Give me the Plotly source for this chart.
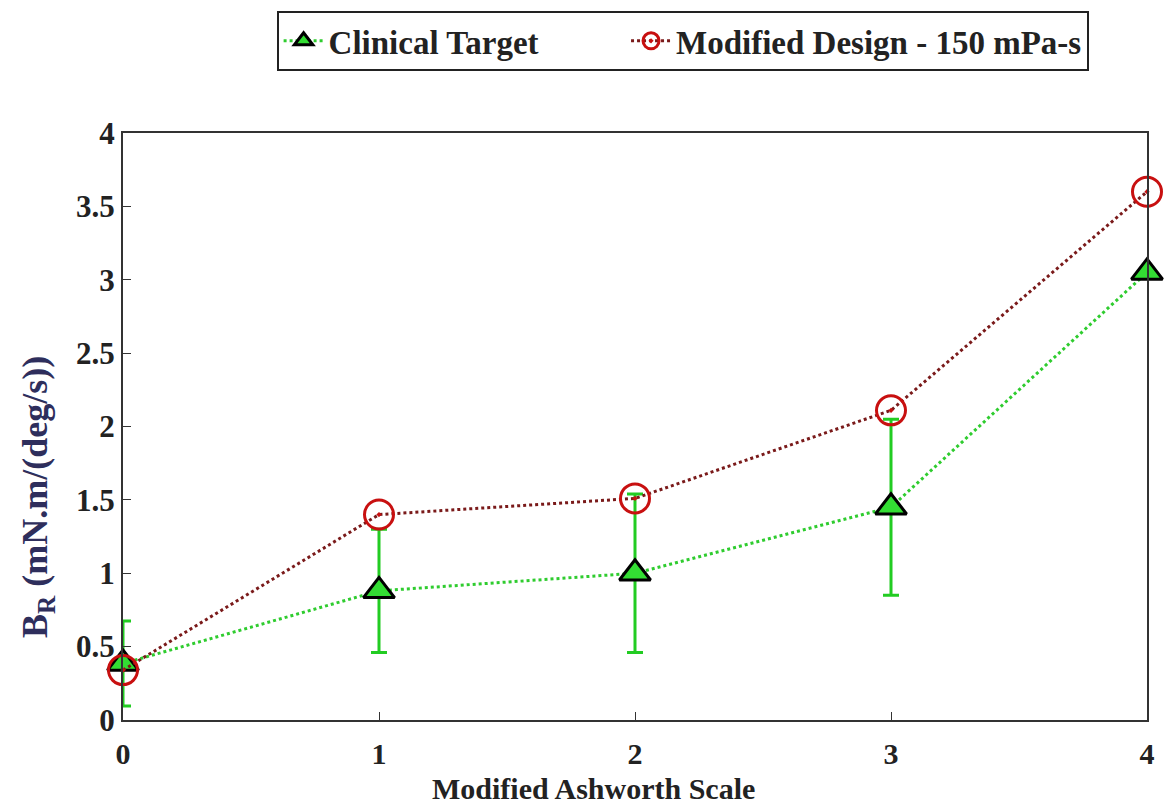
import plotly.graph_objects as go

# Modified Ashworth Scale levels
mas_levels = [0, 1, 2, 3, 4]

# Clinical target damping with spread
clinical_target = [0.385, 0.88, 1.0, 1.45, 3.05]
clinical_spread = [0.29, 0.42, 0.54, 0.60, 0.0]

# Modified design at 150 mPa-s
modified_design = [0.34, 1.40, 1.51, 2.11, 3.60]

y_ticks = [0, 0.5, 1, 1.5, 2, 2.5, 3, 3.5, 4]
y_tick_text = ["0", "0.5", "1", "1.5", "2", "2.5", "3", "3.5", "4"]

FONT = "Liberation Serif"
INK = "#222222"
GAP = "&nbsp;" * 10  # spacing between the two legend entries

fig = go.Figure()

fig.add_trace(go.Scatter(
    x=mas_levels, y=clinical_target,
    name="<b>Clinical Target</b>" + GAP,
    mode="lines+markers",
    line=dict(color="#2fcc2f", width=3, dash="dot"),
    marker=dict(symbol="triangle-up", size=27, color="#33dd33",
                line=dict(color="black", width=3)),
    error_y=dict(type="data", array=clinical_spread, visible=True,
                 color="#22cc22", thickness=3, width=8),
    cliponaxis=False,
))

fig.add_trace(go.Scatter(
    x=mas_levels, y=modified_design,
    name="<b>Modified Design - 150 mPa-s</b>",
    mode="lines+markers",
    line=dict(color="#7a1a1a", width=3, dash="dot"),
    marker=dict(symbol="circle-open-dot", size=29, color="#c81010",
                line=dict(color="#c81010", width=3)),
    cliponaxis=False,
))

# Axis titles placed as annotations
fig.add_annotation(
    text="<b>Modified Ashworth Scale</b>", xref="paper", yref="paper",
    x=0.459, y=-0.116, xanchor="center", yanchor="middle", showarrow=False,
    font=dict(family=FONT, size=30, color=INK),
)
fig.add_annotation(
    text="<b>B<sub>R</sub> (mN.m/(deg/s))</b>", xref="paper", yref="paper",
    x=-0.083, y=0.38, xanchor="center", yanchor="middle", showarrow=False,
    textangle=-90,
    font=dict(family=FONT, size=36, color="#2e2e5c"),
)

fig.update_layout(
    width=1166, height=807,
    margin=dict(l=123, r=11, t=133, b=87),
    paper_bgcolor="white", plot_bgcolor="white",
    font=dict(family=FONT, size=22, color=INK),
    showlegend=True,
    legend=dict(
        orientation="h", x=0.150, y=1.157, xanchor="left", yanchor="middle",
        bordercolor=INK, borderwidth=2, bgcolor="white",
        font=dict(family=FONT, size=33, color=INK),
        itemwidth=40,
    ),
    xaxis=dict(
        range=[0, 4], tickvals=mas_levels,
        ticktext=["<b>%d</b>" % v for v in mas_levels],
        ticks="inside", ticklen=8, tickcolor="#333333",
        showline=True, linecolor="#333333", linewidth=2, mirror=True,
        showgrid=False, zeroline=False,
        ticklabelstandoff=6,
        tickfont=dict(family=FONT, size=30, color=INK),
    ),
    yaxis=dict(
        range=[0, 4], tickvals=y_ticks,
        ticktext=["<b>%s</b>" % t for t in y_tick_text],
        ticks="inside", ticklen=8, tickcolor="#333333",
        showline=True, linecolor="#333333", linewidth=2, mirror=True,
        showgrid=False, zeroline=False,
        tickfont=dict(family=FONT, size=31, color=INK),
    ),
)

fig.write_html("out.html")
